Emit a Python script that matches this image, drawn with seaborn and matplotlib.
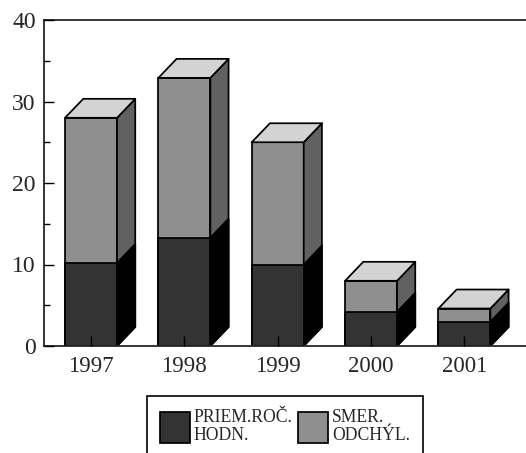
import pandas as pd
import matplotlib.pyplot as plt
from matplotlib.patches import Patch
from matplotlib.ticker import MultipleLocator
import seaborn as sns

sns.set_style('ticks')
plt.rcParams['font.family'] = ['Liberation Serif', 'DejaVu Serif']

years = ['1997', '1998', '1999', '2000', '2001']
priem_hodn = [10.2, 13.3, 10.0, 4.2, 3.0]
smer_odch = [17.8, 19.6, 15.0, 3.8, 1.6]

DARK = '#333333'
GREY = '#8f8f8f'
DARK_SIDE = '#000000'
GREY_SIDE = '#616161'
TOP = '#d3d3d3'
LW = 1.25
# depth of the fake 3d box, in axis units
DX = 0.195
DY = 2.33

df = pd.DataFrame({'year': years, 'priem': priem_hodn, 'smer': smer_odch})
df['total'] = df['priem'] + df['smer']

fig = plt.figure(figsize=(5.26, 4.53), dpi=100)
ax = fig.add_axes([44 / 526, 1 - 346 / 453, 482 / 526, 326 / 453])

sns.barplot(data=df, x='year', y='total', color=GREY, saturation=1, width=0.557,
            edgecolor='black', linewidth=LW, ax=ax, zorder=3)
n_top = len(ax.patches)
sns.barplot(data=df, x='year', y='priem', color=DARK, saturation=1, width=0.557,
            edgecolor='black', linewidth=LW, ax=ax, zorder=4)


def add_box_faces(bar, side_color, top_color=None):
    x0, x1 = bar.get_x(), bar.get_x() + bar.get_width()
    h = bar.get_height()
    ax.fill([x1, x1 + DX, x1 + DX, x1], [0, DY, h + DY, h], facecolor=side_color,
            edgecolor='black', linewidth=LW, zorder=3, joinstyle='round')
    if top_color:
        ax.fill([x0, x1, x1 + DX, x0 + DX], [h, h, h + DY, h + DY], facecolor=top_color,
                edgecolor='black', linewidth=LW, zorder=3, joinstyle='round')


for bar in ax.patches[:n_top]:
    add_box_faces(bar, GREY_SIDE, TOP)
for bar in list(ax.patches)[n_top:n_top + len(years)]:
    add_box_faces(bar, DARK_SIDE)

ax.set_xlim(-0.504, 4.66)
ax.set_ylim(0, 40)
ax.set_xlabel('')
ax.set_ylabel('')
ax.yaxis.set_major_locator(MultipleLocator(10))
ax.yaxis.set_minor_locator(MultipleLocator(5))
ax.tick_params(axis='y', which='major', direction='in', length=7.5, width=1.0,
               labelsize=17, pad=6, color='black')
ax.tick_params(axis='y', which='minor', direction='in', length=4, width=1.0, color='black')
ax.tick_params(axis='x', direction='in', length=7.5, width=1.0, labelsize=16.5, pad=7.5,
               color='black')
ax.xaxis.set_zorder(6)
ax.yaxis.set_zorder(6)

ax.spines['right'].set_visible(False)
for side in ['left', 'bottom', 'top']:
    ax.spines[side].set_linewidth(1.3)
    ax.spines[side].set_zorder(6)

handles = [Patch(facecolor=DARK, edgecolor='black', linewidth=LW),
           Patch(facecolor=GREY, edgecolor='black', linewidth=LW)]
leg = fig.legend(handles, ['PRIEM.ROČ.\nHODN.', 'SMER.\nODCHÝL.'], ncol=2,
                 loc='upper left', bbox_to_anchor=(147 / 526, 1 - 396 / 453),
                 bbox_transform=fig.transFigure, borderaxespad=0, fontsize=12.7,
                 fancybox=False, framealpha=1, edgecolor='black', borderpad=0.72,
                 handlelength=1.72, handleheight=2.3, handletextpad=0.2,
                 columnspacing=0.32, labelspacing=0.2)
leg.get_frame().set_linewidth(1.2)
for t in leg.get_texts():
    t.set_linespacing(1.1)

fig.savefig('out.png', dpi=100)
